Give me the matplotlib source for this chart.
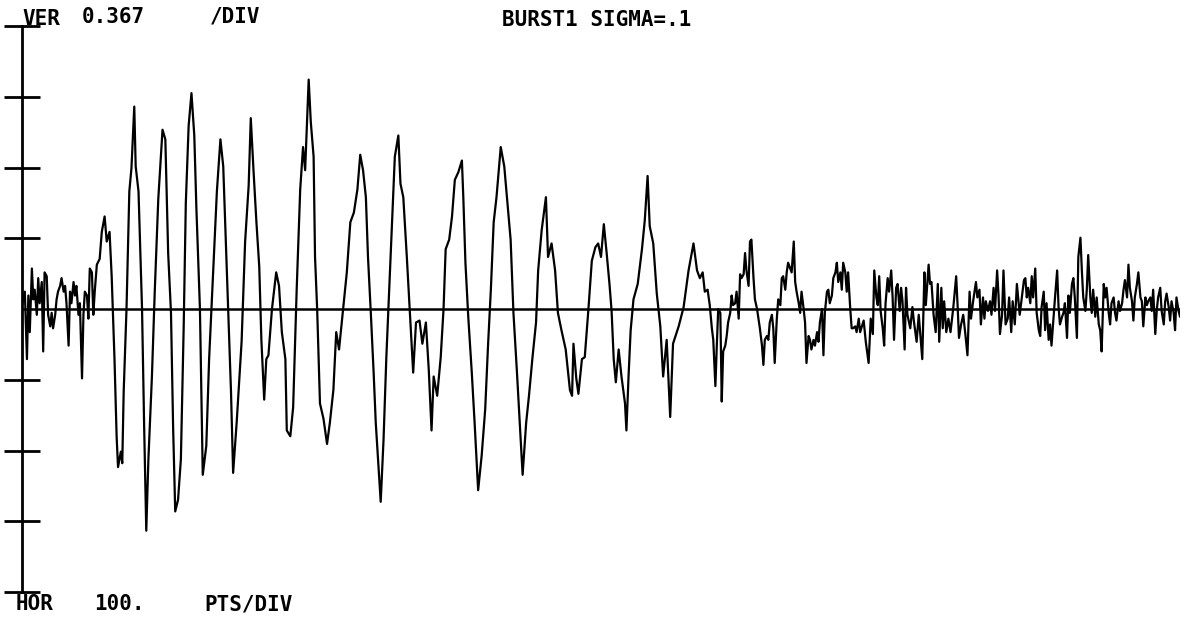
import matplotlib.pyplot as plt

# Traçado: posição (pontos) e amplitude, por trechos
pts_noise = [0, 4, 7, 9, 11, 14, 16, 18, 21, 23,
             25, 28, 30, 32, 35, 37, 40, 42, 44, 47,
             49, 51, 54, 56, 59, 61, 63, 66, 68, 70,
             73, 75, 77, 80, 82, 85, 87, 89, 92, 94,
             96, 99, 101, 103, 106]
amp_noise = [0.02, 0.09, -0.26, 0.07, -0.12, 0.21, 0.05, 0.10, -0.03, 0.16,
             0.03, 0.14, -0.22, 0.19, 0.17, -0.03, -0.09, -0.02, -0.10, -0.03,
             0.05, 0.09, 0.12, 0.16, 0.09, 0.12, 0.03, -0.19, 0.09, 0.03,
             0.14, 0.07, 0.12, -0.03, 0.03, -0.36, -0.03, 0.09, 0.07, -0.05,
             0.21, 0.19, -0.03, 0.09, 0.23]

pts_burst1 = [110, 113, 117, 120, 124, 127, 131, 134, 136, 140,
              142, 144, 148, 152, 155, 159, 161, 165, 170, 173,
              176, 179, 184, 188, 193, 199, 203, 207, 211, 214,
              217, 221, 225, 229, 232, 236, 240, 244, 247, 252,
              256, 261, 265, 271, 276, 281, 285, 292, 296, 299,
              304, 311, 316, 321, 324, 328, 332, 336, 339, 343,
              346, 349, 354, 360, 364, 368, 373]
amp_burst1 = [0.26, 0.40, 0.48, 0.35, 0.40, 0.17, -0.26, -0.66, -0.82, -0.74,
              -0.80, -0.43, 0.00, 0.61, 0.73, 1.05, 0.74, 0.61, 0.00, -0.61,
              -1.15, -0.78, -0.35, 0.09, 0.57, 0.93, 0.88, 0.29, -0.02, -0.61,
              -1.05, -0.99, -0.78, -0.09, 0.55, 0.95, 1.12, 0.90, 0.52, 0.00,
              -0.86, -0.71, -0.26, 0.22, 0.61, 0.88, 0.74, 0.00, -0.43, -0.85,
              -0.59, -0.17, 0.35, 0.64, 0.99, 0.71, 0.45, 0.22, -0.16, -0.47,
              -0.26, -0.24, 0.00, 0.19, 0.12, -0.12, -0.26]

pts_burst2 = [375, 380, 384, 389, 394, 398, 401, 406, 409, 413,
              415, 418, 422, 427, 432, 436, 441, 445, 449, 455,
              460, 465, 470, 475, 479, 483, 487, 490, 494, 498,
              501, 508, 512, 516, 519, 524, 528, 533, 536, 540,
              545, 549, 554, 558, 563, 567, 572, 576, 580, 583,
              588, 593, 597, 600, 605, 609, 613, 618, 623, 625,
              628, 632, 637, 641, 646, 651, 656, 660, 664, 668,
              672, 678, 683, 688, 692, 696, 701, 705, 709, 714,
              718, 723, 728, 731, 736, 742, 745, 750, 755, 759,
              764, 770, 776]
amp_burst2 = [-0.63, -0.66, -0.51, 0.10, 0.62, 0.84, 0.72, 1.19, 0.97, 0.79,
              0.27, 0.00, -0.49, -0.57, -0.70, -0.59, -0.42, -0.12, -0.21, 0.01,
              0.19, 0.45, 0.50, 0.62, 0.80, 0.72, 0.58, 0.27, -0.02, -0.33,
              -0.59, -1.00, -0.68, -0.25, 0.01, 0.45, 0.79, 0.90, 0.65, 0.58,
              0.27, 0.00, -0.33, -0.07, -0.06, -0.18, -0.07, -0.31, -0.63, -0.35,
              -0.45, -0.25, 0.00, 0.31, 0.36, 0.48, 0.67, 0.71, 0.77, 0.58,
              0.24, -0.04, -0.33, -0.59, -0.94, -0.76, -0.52, -0.19, 0.10, 0.45,
              0.58, 0.84, 0.74, 0.53, 0.36, -0.02, -0.33, -0.59, -0.86, -0.59,
              -0.45, -0.25, -0.07, 0.20, 0.41, 0.58, 0.27, 0.34, 0.20, -0.02,
              -0.11, -0.21, -0.42]

pts_decay = [779, 781, 785, 788, 793, 797, 802, 807, 812, 816,
             820, 824, 828, 832, 835, 838, 841, 845, 849, 854,
             856, 859, 862, 866, 872, 878, 882, 886, 889, 894,
             899, 904, 908, 913, 918, 922, 930, 937, 944, 951,
             956]
amp_decay = [-0.45, -0.18, -0.36, -0.44, -0.26, -0.25, -0.01, 0.25, 0.32, 0.34,
             0.27, 0.44, 0.29, 0.13, -0.01, -0.26, -0.38, -0.21, -0.35, -0.49,
             -0.63, -0.35, -0.11, 0.05, 0.13, 0.31, 0.46, 0.69, 0.43, 0.34,
             0.08, -0.09, -0.35, -0.16, -0.56, -0.18, -0.09, 0.01, 0.20, 0.34,
             0.20]

pts_mid = [960, 964, 967, 971, 974, 977, 979, 982, 984, 986,
           989, 991, 993, 996, 998, 1000, 1003, 1005, 1007, 1010,
           1012, 1015, 1017, 1019, 1022, 1024, 1026, 1029, 1031, 1033,
           1036, 1038, 1041, 1043, 1045, 1048, 1050, 1052, 1055, 1057,
           1059, 1062, 1064, 1066, 1069, 1071, 1074, 1076, 1078, 1081,
           1083, 1085, 1088, 1090, 1093, 1095, 1097, 1100, 1102, 1104,
           1107, 1109, 1111, 1114, 1116, 1118, 1121, 1123, 1126, 1128,
           1130, 1133, 1135, 1137, 1140, 1142, 1144, 1147, 1149, 1152,
           1154, 1156, 1159, 1161, 1163, 1166, 1168, 1170, 1173, 1175,
           1177, 1180, 1182, 1185]
amp_mid = [0.16, 0.19, 0.09, 0.10, 0.02, -0.10, -0.16, -0.40, -0.19, 0.00,
           -0.02, -0.48, -0.22, -0.19, -0.14, -0.07, -0.02, 0.07, 0.02, 0.03,
           0.09, -0.05, 0.18, 0.16, 0.18, 0.29, 0.20, 0.12, 0.35, 0.36,
           0.16, 0.05, 0.00, -0.05, -0.10, -0.19, -0.29, -0.16, -0.14, -0.16,
           -0.07, -0.03, -0.10, -0.28, -0.05, 0.05, 0.02, 0.16, 0.17, 0.10,
           0.19, 0.24, 0.21, 0.19, 0.35, 0.14, 0.09, 0.03, -0.02, 0.09,
           0.00, -0.07, -0.28, -0.14, -0.16, -0.21, -0.16, -0.19, -0.12, -0.17,
           -0.07, 0.00, -0.24, -0.02, 0.09, 0.10, 0.03, 0.07, 0.16, 0.19,
           0.24, 0.14, 0.19, 0.10, 0.24, 0.19, 0.09, 0.19, 0.00, -0.10,
           -0.10, -0.09, -0.12, -0.05]

pts_tail1 = [1187, 1192, 1195, 1199, 1202, 1205, 1207, 1210, 1212, 1214,
             1216, 1219, 1221, 1223, 1226, 1228, 1231, 1233, 1235, 1238,
             1240, 1243, 1245, 1247, 1250, 1252, 1254, 1258, 1261, 1263,
             1267, 1270, 1272, 1275, 1278, 1280, 1284, 1286, 1288, 1291,
             1294, 1297, 1299, 1302, 1304, 1306, 1309, 1312, 1315, 1319,
             1323, 1325, 1327, 1330, 1333, 1336, 1339, 1342, 1344, 1347,
             1351, 1353, 1356, 1358, 1361, 1363, 1365, 1368, 1371, 1373,
             1376, 1378, 1381, 1383, 1385, 1388, 1390, 1393, 1396, 1398,
             1401, 1403, 1406, 1409, 1413, 1416, 1419]
amp_tail1 = [-0.12, -0.06, -0.17, -0.28, -0.05, -0.13, 0.20, 0.06, 0.02, 0.17,
             -0.01, -0.10, -0.19, 0.03, 0.16, 0.09, 0.20, 0.06, -0.16, 0.11,
             0.13, -0.01, 0.11, 0.04, -0.21, 0.11, -0.03, -0.10, 0.01, -0.06,
             -0.17, -0.03, -0.12, -0.26, 0.19, 0.02, 0.23, 0.13, 0.14, -0.03,
             -0.12, 0.13, -0.17, 0.11, -0.10, 0.04, -0.12, -0.05, -0.12, 0.01,
             0.17, 0.02, -0.15, -0.08, -0.03, -0.13, -0.24, 0.09, -0.05, 0.04,
             0.14, 0.06, 0.10, -0.08, 0.06, -0.05, 0.04, -0.01, 0.04, -0.03,
             0.11, -0.01, 0.20, 0.07, -0.13, -0.03, 0.20, -0.08, -0.05, 0.06,
             -0.12, 0.04, -0.08, 0.13, -0.03, 0.06, 0.15]

pts_tail2 = [1421, 1423, 1425, 1428, 1430, 1432, 1435, 1437, 1440, 1442,
             1444, 1447, 1449, 1451, 1454, 1456, 1458, 1461, 1463, 1466,
             1468, 1470, 1473, 1475, 1477, 1480, 1482, 1484, 1487, 1489,
             1491, 1494, 1496, 1499, 1501, 1503, 1506, 1508, 1510, 1513,
             1515, 1517, 1520, 1522, 1525, 1527, 1529, 1532, 1534, 1536,
             1539, 1541, 1543, 1546, 1548, 1550, 1553, 1555, 1558, 1560,
             1562, 1565, 1567, 1569, 1572, 1574, 1576, 1579, 1581, 1584,
             1586, 1588, 1591, 1593, 1595, 1598, 1600, 1602, 1605, 1607,
             1609, 1612, 1614, 1617, 1619, 1621, 1624, 1626, 1628, 1631,
             1633, 1635, 1638, 1640, 1642]
amp_tail2 = [0.16, 0.06, 0.11, 0.03, 0.17, 0.06, 0.21, -0.02, -0.11, -0.14,
             0.01, 0.09, -0.11, 0.03, -0.16, -0.08, -0.19, -0.04, 0.06, 0.20,
             0.01, -0.08, -0.04, -0.02, 0.03, -0.15, 0.07, -0.02, 0.13, 0.16,
             0.06, -0.15, 0.27, 0.37, 0.20, 0.06, -0.01, 0.10, 0.28, 0.06,
             -0.02, 0.10, -0.04, 0.06, -0.08, -0.11, -0.22, 0.13, 0.06, 0.11,
             -0.02, -0.08, 0.03, 0.06, -0.02, -0.06, 0.04, -0.01, 0.03, 0.10,
             0.15, 0.06, 0.23, 0.11, 0.04, -0.06, 0.06, 0.13, 0.19, 0.06,
             0.04, -0.09, 0.06, 0.02, 0.04, 0.06, -0.01, 0.10, -0.13, -0.01,
             0.06, 0.11, -0.01, -0.08, 0.04, 0.08, 0.01, -0.06, 0.04, -0.02,
             -0.11, 0.06, -0.01, -0.04, 0.01]

pts = pts_noise + pts_burst1 + pts_burst2 + pts_decay + pts_mid + pts_tail1 + pts_tail2
amp = amp_noise + amp_burst1 + amp_burst2 + amp_decay + amp_mid + amp_tail1 + amp_tail2

ver_div = 0.367
ticks = [-4, -3, -2, -1, 1, 2, 3, 4]

W, H = 1184, 618
fig = plt.figure(figsize=(W / 100, H / 100), dpi=100)
ax = fig.add_axes([22 / W, 26 / H, 1158 / W, 566 / H])

ax.plot(pts, amp, color='black', lw=1.6)
ax.axhline(0, color='black', lw=1.8)

ax.set_xlim(0, 1640)
ax.set_ylim(-4 * ver_div, 4 * ver_div)
for s in ['top', 'right', 'bottom']:
    ax.spines[s].set_visible(False)
ax.spines['left'].set_linewidth(2)
ax.set_xticks([])
ax.set_yticks([t * ver_div for t in ticks])
ax.tick_params(axis='y', direction='inout', length=26, width=2, labelleft=False)

fnt = dict(family='DejaVu Sans Mono', fontsize=15, fontweight='bold', color='black', va='center')

def label(x, y, s):
    fig.text(x / W, 1 - y / H, s, **fnt)

label(22, 19, 'VER')
label(82, 17, '0.367')
label(210, 17, '/DIV')
label(502, 20, 'BURST1 SIGMA=.1')
label(16, 604, 'HOR')
label(94, 604, '100.')
label(204, 604, 'PTS/DIV')

fig.savefig('out.png', dpi=100)
